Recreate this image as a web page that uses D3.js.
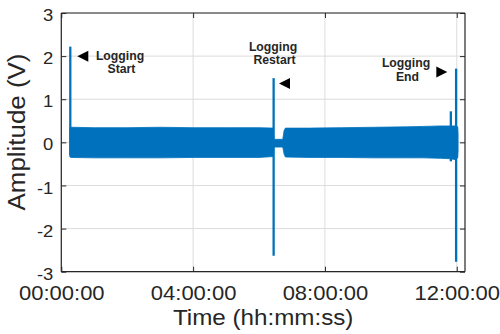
<!DOCTYPE html>
<html>
<head>
<meta charset="utf-8">
<script src="https://cdn.jsdelivr.net/npm/d3@7"></script>
<style>
  html, body { margin: 0; padding: 0; background: #fff; }
  svg { display: block; }
  text { font-family: "Liberation Sans", Arial, Helvetica, sans-serif; fill: #262626; }
</style>
</head>
<body>
<svg id="chart" width="500" height="334"></svg>
<script>
// ---- data (hours since start, amplitude in volts) ----
const xTickValues = [0, 4, 8, 12];
const xTickLabels = ["00:00:00", "04:00:00", "08:00:00", "12:00:00"];
const yTickValues = [-3, -2, -1, 0, 1, 2, 3];
const yTickLabels = ["-3", "-2", "-1", "0", "1", "2", "3"];

// envelope of the dense noise band
const bandTime  = [0.26, 0.30, 1.0, 2.0, 3.0, 4.0, 5.0, 6.0, 6.43, 6.45, 6.72, 6.76, 6.80, 7.5, 8.5, 9.5, 10.5, 11.0, 11.5, 11.80, 11.95, 12.03, 12.04];
const bandUpper = [0.34, 0.35, 0.34, 0.34, 0.35, 0.34, 0.34, 0.34, 0.33, 0.07, 0.07, 0.27, 0.33, 0.33, 0.34, 0.35, 0.36, 0.37, 0.38, 0.38, 0.38, 0.36, 0.20];
const bandLower = [-0.34, -0.35, -0.36, -0.36, -0.36, -0.35, -0.35, -0.35, -0.33, -0.11, -0.11, -0.27, -0.34, -0.35, -0.35, -0.36, -0.36, -0.36, -0.37, -0.38, -0.40, -0.36, -0.20];

// isolated spikes
const spikeTime = [0.273, 6.443, 11.82, 11.98];
const spikeMax  = [2.22, 1.49, 0.72, 1.71];
const spikeMin  = [-0.30, -2.63, -0.44, -2.77];

// annotations
const noteLines = [["Logging", "Start"], ["Logging", "Restart"], ["Logging", "End"]];

// ---- layout ----
const svg = d3.select("#chart");
const L = 61.3, R = 465, T = 13, B = 271.7;
const x = d3.scaleLinear().domain([0, 12.25]).range([L, R]);
const y = d3.scaleLinear().domain([-3, 3]).range([B, T]);
const blue = "#0072BD";
const axisColor = "#262626";
const gridColor = "#dcdcdc";
const SX = 1.1; // horizontal stretch of reference text

// grid
const g = svg.append("g");
g.selectAll("line.gx").data(xTickValues).join("line")
  .attr("x1", d => x(d)).attr("x2", d => x(d)).attr("y1", T).attr("y2", B)
  .attr("stroke", gridColor).attr("stroke-width", 1);
g.selectAll("line.gy").data(yTickValues).join("line")
  .attr("x1", L).attr("x2", R).attr("y1", d => y(d)).attr("y2", d => y(d))
  .attr("stroke", gridColor).attr("stroke-width", 1);

// band
const bandData = bandTime.map((t, i) => ({t, hi: bandUpper[i], lo: bandLower[i]}));
svg.append("path").datum(bandData)
  .attr("d", d3.area().x(d => x(d.t)).y0(d => y(d.lo)).y1(d => y(d.hi)).curve(d3.curveLinear))
  .attr("fill", blue).attr("stroke", blue).attr("stroke-width", 0.8);

// spikes
svg.selectAll("line.spike").data(spikeTime).join("line")
  .attr("x1", d => x(d)).attr("x2", d => x(d))
  .attr("y1", (d, i) => y(spikeMax[i])).attr("y2", (d, i) => y(spikeMin[i]))
  .attr("stroke", blue).attr("stroke-width", 2.3);

// axes box
const axB = d3.axisBottom(x).tickValues(xTickValues).tickSize(-5).tickFormat((d, i) => xTickLabels[i]);
const axT = d3.axisTop(x).tickValues(xTickValues).tickSize(-5).tickFormat("");
const axLft = d3.axisLeft(y).tickValues(yTickValues).tickSize(-5).tickFormat((d, i) => yTickLabels[i]);
const axRgt = d3.axisRight(y).tickValues(yTickValues).tickSize(-5).tickFormat("");

function style(sel) {
  sel.select(".domain").attr("stroke", axisColor).attr("stroke-width", 1.2);
  sel.selectAll(".tick line").attr("stroke", axisColor).attr("stroke-width", 1);
  sel.selectAll("text").attr("fill", axisColor).attr("font-family", "Liberation Sans, Arial, sans-serif");
}
const gB = svg.append("g").attr("transform", `translate(0,${B})`).call(axB).call(style);
gB.select(".domain").attr("d", `M${L},0H${R}`);
gB.selectAll(".tick text").attr("font-size", 20).attr("dy", null).attr("y", 0)
  .attr("transform", `translate(0,28.5) scale(${SX},1)`).attr("text-anchor", "middle");
const gT = svg.append("g").attr("transform", `translate(0,${T})`).call(axT).call(style);
gT.select(".domain").attr("d", `M${L},0H${R}`);
const gL = svg.append("g").attr("transform", `translate(${L},0)`).call(axLft).call(style);
gL.select(".domain").attr("d", `M0,${T}V${B}`);
gL.selectAll(".tick text").attr("font-size", 16).attr("x", 0).attr("dy", null).attr("y", 0)
  .attr("dominant-baseline", "central").attr("text-anchor", "end")
  .attr("transform", `translate(-8,2) scale(${SX + 0.05},1)`);
const gR = svg.append("g").attr("transform", `translate(${R},0)`).call(axRgt).call(style);
gR.select(".domain").attr("d", `M0,${T}V${B}`);

// axis titles
svg.append("text").text("Time (hh:mm:ss)")
  .attr("font-size", 22).attr("text-anchor", "middle")
  .attr("transform", `translate(${(L + R) / 2},325) scale(${SX},1)`);
svg.append("text").text("Amplitude (V)")
  .attr("font-size", 24).attr("text-anchor", "middle")
  .attr("transform", `translate(25,132) scale(1,1.08) rotate(-90)`);

// annotations
const noteX = [120, 273, 406];
const noteY = [59.5, 50.7, 67.3];
noteLines.forEach((lines, k) => {
  lines.forEach((s, j) => {
    svg.append("text").text(s)
      .attr("font-size", 12).attr("font-weight", "bold").attr("text-anchor", "middle")
      .attr("fill", "#000")
      .attr("transform", `translate(${noteX[k] + (j ? 1.5 : 0)},${noteY[k] + j * 13.5}) scale(1.02,1)`);
  });
});
// triangles pointing at the spikes
const triTip = [[77.3, 56.2], [279, 83.5], [447.3, 72]];
const triDir = [-1, -1, 1];
triTip.forEach(([tx, ty], k) => {
  const d = triDir[k];
  const bx = tx - d * 11;
  svg.append("path")
    .attr("d", `M${tx},${ty}L${bx},${ty - 5.5}L${bx},${ty + 5.5}Z`)
    .attr("fill", "#000");
});
</script>
</body>
</html>
